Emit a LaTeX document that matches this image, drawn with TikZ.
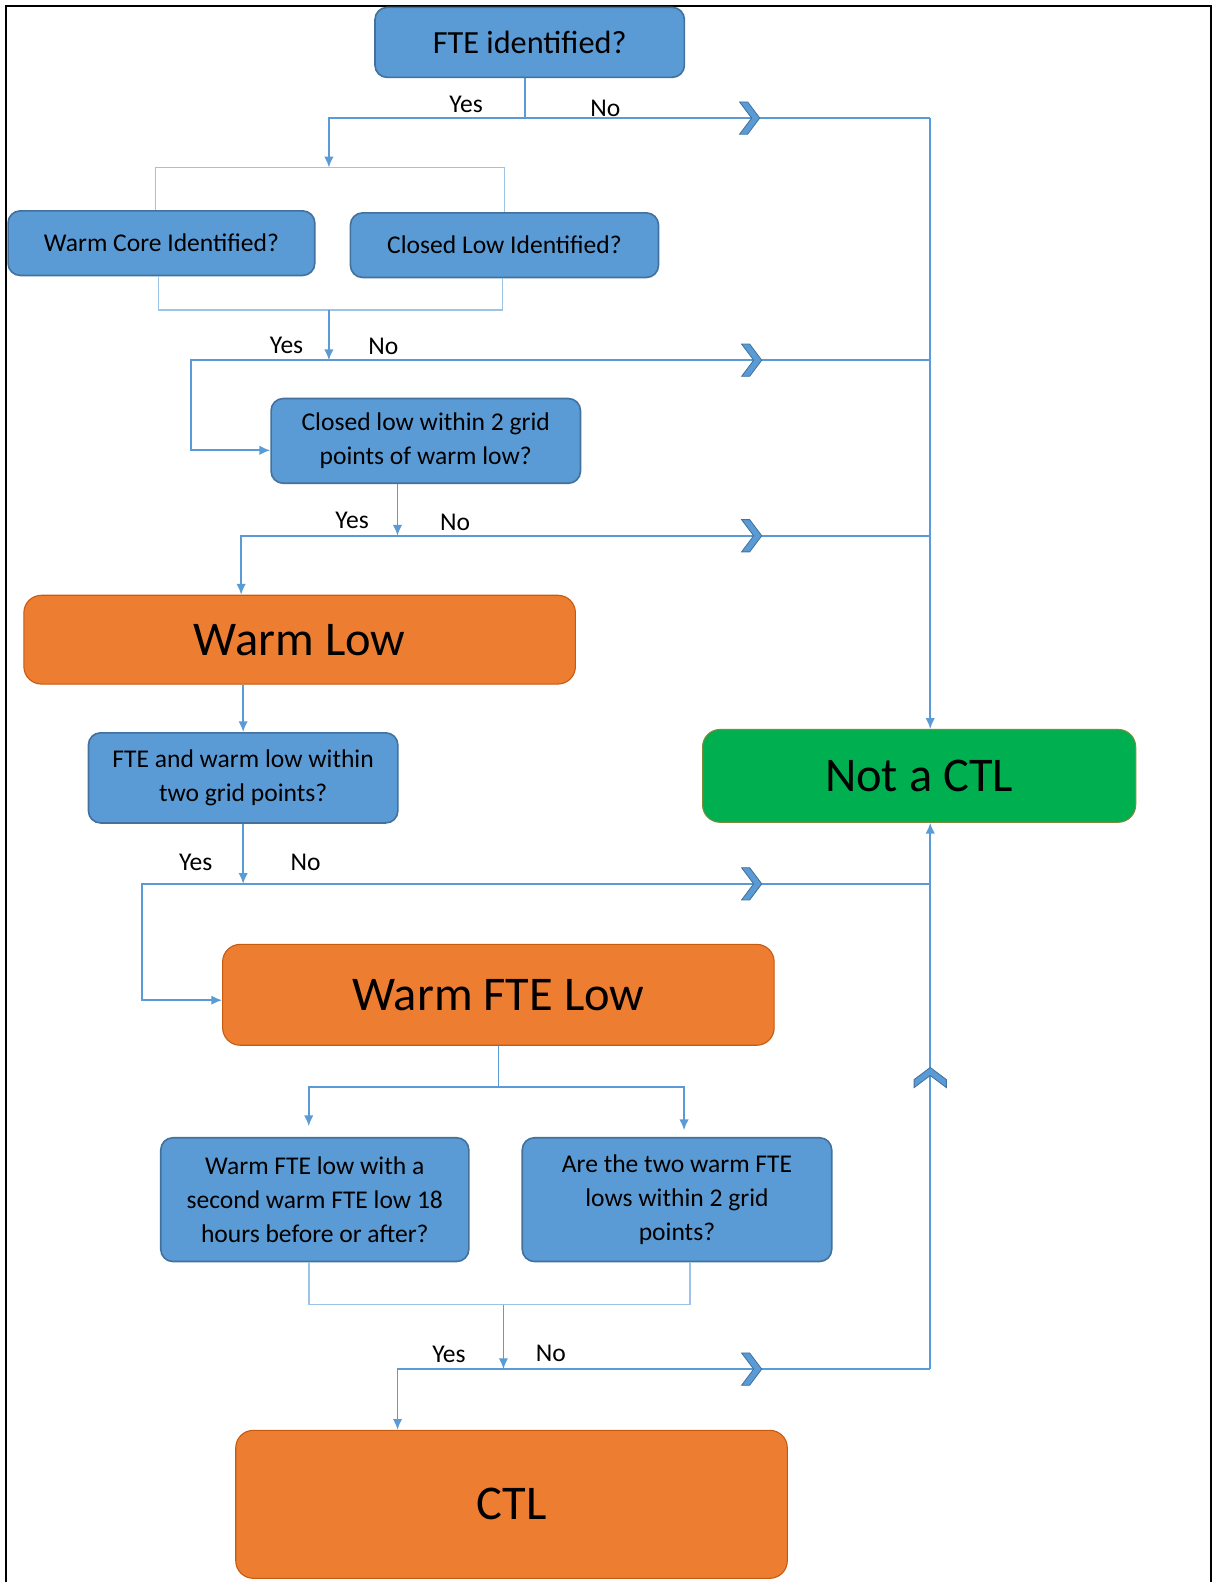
\documentclass[tikz,border=0pt]{standalone}
\usepackage{fontspec}
\setmainfont{Carlito}
\usetikzlibrary{arrows.meta,positioning}

\definecolor{qblue}{HTML}{5B9BD5}
\definecolor{qedge}{HTML}{41719C}
\definecolor{lblue}{HTML}{9DC3E6}
\definecolor{rorange}{HTML}{ED7D31}
\definecolor{redge}{HTML}{C55A11}
\definecolor{ngreen}{HTML}{00B050}
\definecolor{nedge}{HTML}{7A8B3A}

\tikzset{
	qbox/.style={draw=qedge,fill=qblue,line width=1.2pt,rounded corners=9pt,align=center,inner sep=2pt,font=\fontsize{19}{25}\selectfont},
	resbox/.style={draw=redge,fill=rorange,line width=0.8pt,rounded corners=13pt,font=\fontsize{36}{42}\selectfont},
	notbox/.style={draw=nedge,fill=ngreen,line width=0.8pt,rounded corners=13pt,font=\fontsize{36}{42}\selectfont},
	link/.style={draw=qblue,line width=1.3pt},
	arr/.style={link,-{Latex[length=8pt,width=7pt]}},
	brk/.style={draw=lblue,line width=1.2pt},
	ans/.style={font=\fontsize{19}{22}\selectfont},
}

\newcommand{\drawchevron}[2]{\filldraw[fill=qblue,draw=qedge,line width=0.6pt,shift={(#1)},rotate=#2] (-10,-16) -- (-2,-16) -- (10,0) -- (-2,16) -- (-10,16) -- (2,0) -- cycle;}

\begin{document}
\begin{tikzpicture}[x=0.75pt,y=-0.75pt]
	\useasboundingbox (0,0) rectangle (1205,1568);
	\draw[line width=1.5pt] (6,1568) -- (6,6) -- (1200,6) -- (1200,1568);

	% boxes
	\node[qbox,minimum width=230pt,minimum height=52pt,font=\fontsize{24}{28}\selectfont] (fte) at (525,42) {FTE identified?};
	\node[qbox,minimum width=228pt,minimum height=48pt] (core) at (160,241) {Warm Core Identified?};
	\node[qbox,minimum width=229pt,minimum height=48pt] (closed) at (500,243) {Closed Low Identified?};
	\node[qbox,minimum width=230pt,minimum height=63pt] (near) at (422,437) {Closed low within 2 grid\\points of warm low?};
	\node[resbox,minimum width=410pt,minimum height=66pt] (wlow) at (297,634) {Warm Low};
	\node[qbox,minimum width=230pt,minimum height=67pt] (ftenear) at (241,771) {FTE and warm low within\\two grid points?};
	\node[notbox,minimum width=322pt,minimum height=69pt] (notctl) at (911,769) {Not a CTL};
	\node[resbox,minimum width=410pt,minimum height=75pt] (wfte) at (494,986) {Warm FTE Low};
	\node[qbox,minimum width=229pt,minimum height=92pt] (second) at (312,1189) {Warm FTE low with a\\second warm FTE low 18\\hours before or after?};
	\node[qbox,minimum width=230pt,minimum height=92pt] (pair) at (671,1189) {Are the two warm FTE\\lows within 2 grid\\points?};
	\node[resbox,minimum width=410pt,minimum height=110pt] (ctl) at (507,1491) {CTL};

	% junctions
	\coordinate (j1) at (520,117);
	\coordinate (t1) at (326,166);
	\coordinate (b1) at (326,307);
	\coordinate (j2) at (326,357);
	\coordinate (l2) at (189,357);
	\coordinate (j3) at (394,531);
	\coordinate (l3) at (239,531);
	\coordinate (j4) at (241,876);
	\coordinate (l4) at (141,876);
	\coordinate (s5) at (494,1077);
	\coordinate (b5) at (499,1293);
	\coordinate (j5) at (499,1357);
	\coordinate (l5) at (394,1357);
	\coordinate (r1) at (922,117);
	\coordinate (r2) at (922,357);
	\coordinate (r3) at (922,531);
	\coordinate (r4) at (922,876);
	\coordinate (r5) at (922,1357);

	% first question
	\draw[link] (j1 |- fte.south) -- (j1);
	\draw[arr] (j1) -| (t1);
	\draw[link] (j1) -- (r1);
	\draw[brk] (core.north -| 154,0) |- (t1) -| (closed.north);
	\node[ans] (yes1) at (462,103) {Yes};
	\node[ans] (no1) at (600,107) {No};

	% warm core / closed low
	\draw[brk] (core.south -| 157,0) |- (b1) -| (closed.south -| 498,0);
	\draw[arr] (b1) -- (j2);
	\draw[link] (j2) -- (r2);
	\draw[arr] (j2) -- (l2) |- ([yshift=-7pt]near.west);
	\node[ans] (yes2) at (284,342) {Yes};
	\node[ans] (no2) at (380,343) {No};

	% closed low near warm low
	\draw[arr] (j3 |- near.south) -- (j3);
	\draw[link] (j3) -- (r3);
	\draw[arr] (j3) -- (l3) -- (l3 |- wlow.north);
	\node[ans] (yes3) at (349,516) {Yes};
	\node[ans] (no3) at (451,518) {No};

	% warm low
	\draw[arr] (wlow.south -| ftenear.north) -- (ftenear.north);
	\draw[arr] (ftenear.south) -- (j4);
	\draw[link] (j4) -- (r4);
	\draw[arr] (j4) -- (l4) |- ([yshift=-4pt]wfte.west);
	\node[ans] (yes4) at (194,855) {Yes};
	\node[ans] (no4) at (303,855) {No};

	% warm FTE low
	\draw[link] (wfte.south) -- (s5);
	\draw[arr,shorten >=8pt] (s5) -| (second.north -| 306,0);
	\draw[arr,shorten >=5pt] (s5) -| (pair.north -| 678,0);
	\draw[brk] (second.south -| 306,0) |- (b5) -| (pair.south -| 684,0);
	\draw[arr] (b5) -- (j5);
	\draw[link] (j5) -- (r5);
	\draw[arr] (j5) -- (l5) -- (l5 |- ctl.north);
	\node[ans] (yes5) at (445,1342) {Yes};
	\node[ans] (no5) at (546,1341) {No};

	% right rails
	\draw[arr] (r1) -- (r1 |- notctl.north);
	\draw[arr] (r5) -- (r5 |- notctl.south);

	\drawchevron{743,117}{0}
	\drawchevron{745,357}{0}
	\drawchevron{745,531}{0}
	\drawchevron{745,876}{0}
	\drawchevron{745,1357}{0}
	\drawchevron{922,1068}{90}
\end{tikzpicture}
\end{document}
